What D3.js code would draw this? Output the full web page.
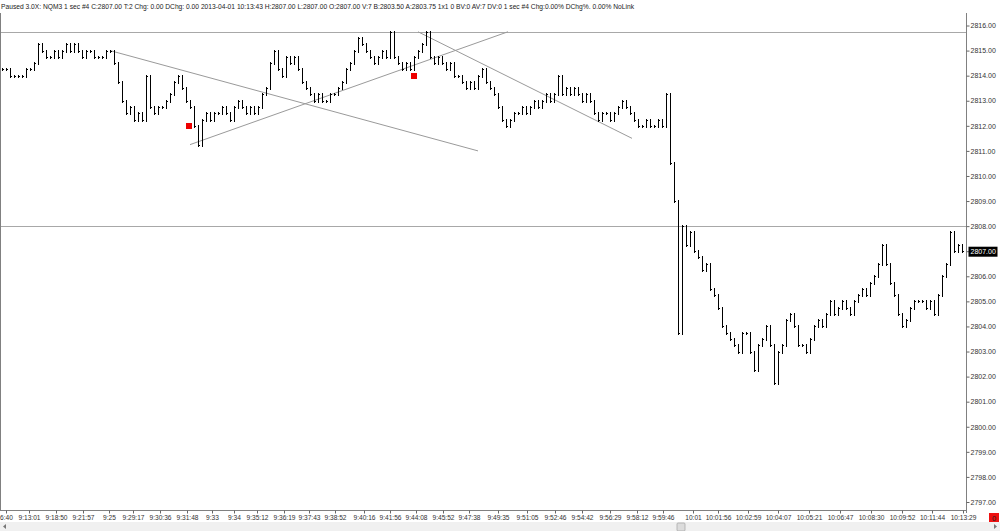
<!DOCTYPE html>
<html><head><meta charset="utf-8">
<script src="https://cdn.jsdelivr.net/npm/d3@7"></script>
<style>
html,body{margin:0;padding:0;background:#fff;}
svg{display:block;font-family:"Liberation Sans",Arial,sans-serif;}
</style></head>
<body>
<svg id="chart" width="1000" height="531"></svg>
<script>
// ---- data ----
const headerText = "Paused 3.0X: NQM3  1 sec   #4 C:2807.00 T:2 Chg: 0.00 DChg: 0.00 2013-04-01 10:13:43 H:2807.00 L:2807.00 O:2807.00 V:7 B:2803.50 A:2803.75 1x1 0 BV:0 AV:7 DV:0 1 sec   #4 Chg:0.00% DChg%. 0.00% NoLink";

// one close per bar (1-sec bars, index-spaced)
const closes = [
 2814.25,2814.25,2814.0,2814.0,2814.0,2814.0,2814.25,2814.25,2814.5,2815.25,
 2815.0,2814.75,2814.75,2815.0,2814.75,2815.0,2815.25,2815.0,2815.25,2815.0,
 2814.75,2815.0,2815.0,2814.75,2814.75,2814.75,2815.0,2815.0,2814.5,2813.75,
 2813.0,2812.5,2812.75,2812.25,2812.5,2812.25,2814.0,2812.75,2812.5,2812.75,
 2812.75,2813.0,2813.25,2813.75,2814.0,2813.5,2813.0,2812.75,2812.0,2811.25,
 2812.25,2812.5,2812.25,2812.5,2812.5,2812.75,2812.5,2812.25,2812.75,2813.0,
 2812.75,2812.5,2812.75,2812.5,2812.75,2813.25,2813.5,2814.5,2815.0,2814.25,
 2814.0,2814.75,2814.5,2814.75,2814.25,2813.75,2813.5,2813.25,2813.0,2813.25,
 2813.0,2813.0,2813.25,2813.25,2813.5,2813.75,2814.25,2814.5,2815.0,2815.5,
 2815.25,2815.0,2814.75,2814.5,2814.75,2815.0,2814.75,2815.75,2814.75,2814.5,
 2814.25,2814.5,2814.25,2814.75,2815.0,2815.25,2815.75,2814.75,2814.5,2814.75,
 2814.5,2814.25,2814.5,2814.0,2814.0,2813.75,2813.5,2813.75,2813.5,2814.0,
 2814.25,2813.75,2813.5,2813.25,2812.75,2812.25,2812.0,2812.25,2812.5,2812.5,
 2812.75,2812.5,2812.75,2813.0,2812.75,2813.0,2813.25,2813.0,2813.25,2814.0,
 2813.25,2813.5,2813.25,2813.5,2813.25,2813.0,2813.25,2813.0,2812.5,2812.25,
 2812.5,2812.5,2812.25,2812.5,2812.75,2813.0,2812.75,2812.5,2812.25,2812.0,
 2812.0,2812.25,2812.0,2812.0,2812.25,2812.0,2813.25,2810.5,2809.0,2803.75,
 2808.0,2807.25,2807.75,2807.0,2806.75,2806.25,2806.5,2805.5,2805.25,2804.75,
 2804.0,2803.75,2803.5,2803.25,2803.0,2803.75,2803.75,2803.0,2802.25,2803.25,
 2803.5,2804.0,2803.25,2801.75,2803.0,2803.25,2804.25,2804.5,2804.0,2803.25,
 2803.25,2803.0,2803.5,2804.0,2804.25,2804.0,2804.5,2805.0,2804.5,2804.75,
 2805.0,2804.75,2804.5,2805.0,2805.25,2805.5,2805.25,2805.75,2806.0,2806.5,
 2807.25,2806.5,2805.75,2805.25,2804.5,2804.0,2804.25,2804.75,2805.0,2805.0,
 2805.0,2804.75,2805.0,2804.5,2805.25,2806.0,2806.5,2807.75,2807.0,2807.25,
 2807.0
];

const priceTicks = [2816,2815,2814,2813,2812,2811,2810,2809,2808,2807,2806,2805,2804,2803,2802,2801,2800,2799,2798,2797];
const lastPrice = 2807.00;

const timeLabels = ["6:40","9:13:01","9:18:50","9:21:57","9:25","9:29:17","9:30:36","9:31:48","9:33","9:34",
 "9:35:12","9:36:19","9:37:43","9:38:52","9:40:16","9:41:56","9:44:08","9:45:52","9:47:38","9:49:35",
 "9:51:05","9:52:46","9:54:42","9:56:29","9:58:12","9:59:46","10:01","10:01:56","10:02:59","10:04:07",
 "10:05:21","10:06:47","10:08:30","10:09:52","10:11:44","10:13:29"];
const timeLabelBars = [1,6.75,13.5,20.25,26.75,32.75,39.5,46.25,52.5,58,
 63.75,70.5,76.75,83.25,90.5,97,103.5,110.25,116.75,124,
 131.25,138.25,145,152,158.75,165.25,172.75,179,186.5,194,
 201.75,209.5,217.25,225,232.5,240.25];

// horizontal reference lines (price)
const hLines = [2815.75, 2808.0];
// trend lines: [barStart, priceStart, barEnd, priceEnd]
const trendStartBar = [27, 47, 104];
const trendStartPrice = [2815.0, 2811.25, 2815.75];
const trendEndBar = [119, 126.5, 157.5];
const trendEndPrice = [2811.0, 2815.75, 2811.5];
// signal markers
const markerBar = [46.75, 103];
const markerPrice = [2812.0, 2814.0];

// ---- layout ----
const svg = d3.select("#chart");
const plotL = 0, plotR = 966, plotT = 13, plotB = 510;

const x = d3.scaleLinear().domain([0, closes.length - 1]).range([2, 962]);
const y = d3.scaleLinear().domain([2797, 2816]).range([502, 25.5]);

// header
svg.append("text").attr("x", 1).attr("y", 8.5)
  .attr("font-size", 7.5).attr("fill", "#222")
  .attr("textLength", 633).attr("lengthAdjust", "spacingAndGlyphs")
  .text(headerText);

// horizontal lines
svg.selectAll("line.h").data(hLines).enter().append("line")
  .attr("x1", plotL).attr("x2", plotR)
  .attr("y1", d => Math.round(y(d)) + 0.5).attr("y2", d => Math.round(y(d)) + 0.5)
  .attr("stroke", "#a8a8a8").attr("stroke-width", 1);

// trend lines
svg.selectAll("line.t").data(trendStartBar).enter().append("line")
  .attr("x1", (d, i) => x(d)).attr("y1", (d, i) => y(trendStartPrice[i]))
  .attr("x2", (d, i) => x(trendEndBar[i])).attr("y2", (d, i) => y(trendEndPrice[i]))
  .attr("stroke", "#9a9a9a").attr("stroke-width", 1);

// bars
const bars = closes.map((c, i) => ({ i, o: i === 0 ? c : closes[i - 1], c }));
const g = svg.append("g").attr("stroke", "#000").attr("stroke-width", 1).attr("shape-rendering", "crispEdges");
const px = d => Math.round(x(d.i)) + 0.5;
g.selectAll("line.v").data(bars).enter().append("line")
  .attr("x1", px).attr("x2", px)
  .attr("y1", d => Math.round(y(Math.max(d.o, d.c))) - 1).attr("y2", d => Math.round(y(Math.min(d.o, d.c))) + 2);
g.selectAll("line.o").data(bars).enter().append("line")
  .attr("x1", d => px(d) - 1).attr("x2", d => px(d))
  .attr("y1", d => Math.round(y(d.o)) + 0.5).attr("y2", d => Math.round(y(d.o)) + 0.5);
g.selectAll("line.c").data(bars).enter().append("line")
  .attr("x1", d => px(d)).attr("x2", d => px(d) + 1.5)
  .attr("y1", d => Math.round(y(d.c)) + 0.5).attr("y2", d => Math.round(y(d.c)) + 0.5);

// markers
svg.selectAll("rect.m").data(markerBar).enter().append("rect")
  .attr("x", d => Math.round(x(d)) - 3).attr("y", (d, i) => Math.round(y(markerPrice[i])) - 3)
  .attr("width", 6).attr("height", 6).attr("fill", "#ee0000");

// plot frame
svg.append("line").attr("x1", 0.5).attr("x2", 0.5).attr("y1", plotT).attr("y2", plotB)
  .attr("stroke", "#808080");
svg.append("line").attr("x1", plotR + 0.5).attr("x2", plotR + 0.5).attr("y1", plotT).attr("y2", plotB + 3)
  .attr("stroke", "#808080");
svg.append("line").attr("x1", 0).attr("x2", plotR + 1).attr("y1", plotB + 0.5).attr("y2", plotB + 0.5)
  .attr("stroke", "#808080");

// right price axis
const yAxis = d3.axisRight(y).tickValues(priceTicks).tickSize(3).tickPadding(1)
  .tickFormat(d => d3.format(".2f")(d));
const ya = svg.append("g").attr("transform", `translate(${plotR + 0.5},0)`).call(yAxis);
ya.select(".domain").remove();
ya.selectAll("line").attr("stroke", "#666");
ya.selectAll("text").attr("font-size", 7).attr("fill", "#333").attr("font-family", "Liberation Sans, Arial, sans-serif");
ya.selectAll(".tick").filter(d => d === lastPrice).each(function () {
  const t = d3.select(this);
  t.insert("rect", "text").attr("x", 2).attr("y", -5).attr("width", 29).attr("height", 10).attr("fill", "#000");
  t.select("text").attr("fill", "#fff");
});

// bottom time axis
const xAxis = d3.axisBottom(x).tickValues(timeLabelBars).tickSize(3).tickPadding(2)
  .tickFormat((d, i) => timeLabels[i]);
const xa = svg.append("g").attr("transform", `translate(0,${plotB + 0.5})`).call(xAxis);
xa.select(".domain").remove();
xa.selectAll("line").attr("stroke", "#666");
xa.selectAll("text").attr("font-size", 6.6).attr("fill", "#333").attr("font-family", "Liberation Sans, Arial, sans-serif");

// scrollbar strip
svg.append("rect").attr("x", 0).attr("y", 522).attr("width", 1000).attr("height", 9).attr("fill", "#f0f0f0");
svg.append("rect").attr("x", 677).attr("y", 523).attr("width", 8).attr("height", 8)
  .attr("fill", "#dcdcdc").attr("stroke", "#aaa").attr("stroke-width", 0.8).attr("rx", 1);
svg.append("path").attr("d", "M6,524 L3,526.5 L6,529 Z").attr("fill", "#777");
svg.append("path").attr("d", "M994,524 L997,526.5 L994,529 Z").attr("fill", "#777");

// red counter box
svg.append("rect").attr("x", 989).attr("y", 513).attr("width", 10).attr("height", 9).attr("fill", "#ee1111");
svg.append("text").attr("x", 994).attr("y", 520.5).attr("text-anchor", "middle")
  .attr("font-size", 7.5).attr("fill", "#222").text("0");
</script>
</body></html>
